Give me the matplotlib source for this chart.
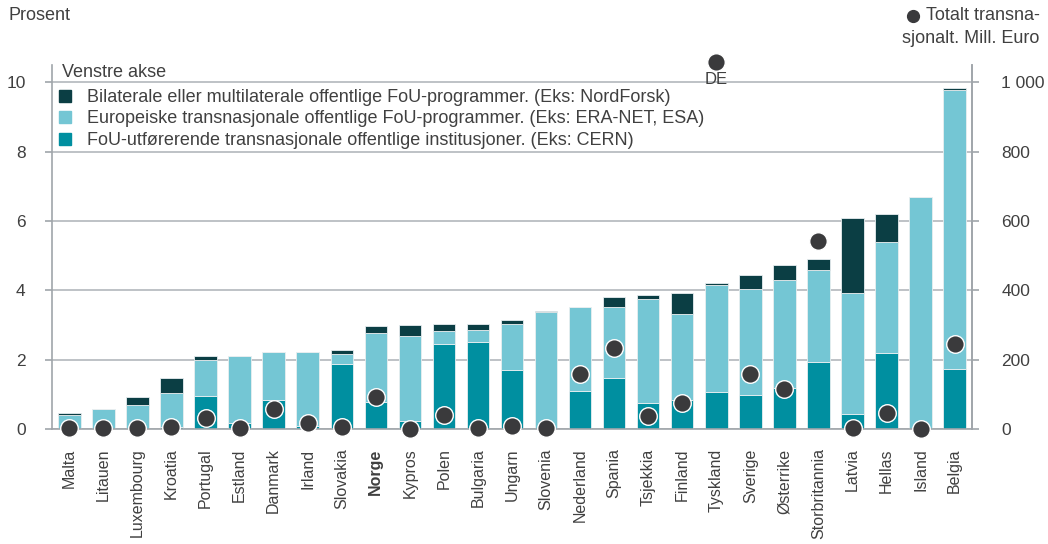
import matplotlib
matplotlib.use("Agg")
import matplotlib.pyplot as plt
from matplotlib.patches import Patch
from matplotlib.lines import Line2D
import numpy as np

plt.rcParams['font.family'] = ['Liberation Sans', 'DejaVu Sans']

countries = ["Malta", "Litauen", "Luxembourg", "Kroatia", "Portugal", "Estland", "Danmark",
             "Irland", "Slovakia", "Norge", "Kypros", "Polen", "Bulgaria", "Ungarn", "Slovenia",
             "Nederland", "Spania", "Tsjekkia", "Finland", "Tyskland", "Sverige", "Østerrike",
             "Storbritannia", "Latvia", "Hellas", "Island", "Belgia"]

# Percent shares (left axis)
fou_utforende = [0.00, 0.00, 0.00, 0.07, 0.96, 0.18, 0.84, 0.10, 1.88, 0.79, 0.24, 2.45, 2.52, 1.70,
                 0.00, 1.10, 1.48, 0.76, 0.84, 1.08, 0.98, 1.19, 1.94, 0.42, 2.18, 0.00, 1.73]
europeiske = [0.40, 0.57, 0.69, 0.96, 1.03, 1.94, 1.38, 2.12, 0.28, 1.97, 2.44, 0.38, 0.33, 1.33,
              3.37, 2.42, 2.03, 2.98, 2.49, 3.07, 3.07, 3.12, 2.66, 3.49, 3.22, 6.70, 8.04]
bilaterale = [0.05, 0.01, 0.22, 0.43, 0.12, 0.00, 0.00, 0.00, 0.12, 0.21, 0.31, 0.19, 0.18, 0.10,
              0.03, 0.00, 0.30, 0.12, 0.58, 0.05, 0.39, 0.42, 0.31, 2.18, 0.79, 0.00, 0.07]

# Total transnational, mill. euro (right axis); Tyskland is off the scale
totalt = [3, 3, 3, 5, 33, 2, 57, 16, 7, 92, 1, 40, 2, 10, 2, 160, 235, 38, 76, 1058, 158, 116,
          542, 2, 45, 0, 245]

left_ticks = [0, 2, 4, 6, 8, 10]
right_ticks = [0, 200, 400, 600, 800, 1000]
right_labels = ["0", "200", "400", "600", "800", "1 000"]

c_dark = "#0b3e44"
c_light = "#74c6d4"
c_teal = "#008fa0"
c_dot = "#3a3a3c"
c_grid = "#b3b8bc"
c_spine = "#a0a5aa"
c_text = "#404040"
fs = 13
fs_tick = 12.5
fs_x = 11.5

fig = plt.figure(figsize=(10.48, 5.44), dpi=100)
ax = fig.add_axes([0.0496, 0.2114, 0.8779, 0.6691])
x = np.arange(len(countries))
w = 0.66
b1 = np.array(fou_utforende)
b2 = np.array(europeiske)
b3 = np.array(bilaterale)
ax.bar(x, b1, w, color=c_teal, edgecolor="#e8eef0", linewidth=0.6, zorder=2)
ax.bar(x, b2, w, bottom=b1, color=c_light, edgecolor="#e8eef0", linewidth=0.6, zorder=2)
ax.bar(x, b3, w, bottom=b1 + b2, color=c_dark, edgecolor="#e8eef0", linewidth=0.6, zorder=2)

ax.set_xlim(-0.51, 26.51)
ax.set_ylim(0, 10.5)
ax.set_yticks(left_ticks)
ax.set_yticklabels([str(t) for t in left_ticks])
ax.grid(axis='y', color=c_grid, linewidth=1.2, zorder=0)
ax.set_axisbelow(True)
ax.spines["top"].set_visible(False)
for s in ["left", "right", "bottom"]:
    ax.spines[s].set_color(c_spine)
    ax.spines[s].set_linewidth(1.2)
ax.tick_params(axis='y', length=5, width=1.2, color=c_spine, labelsize=fs_tick, labelcolor=c_text, pad=14)
ax.tick_params(axis='x', length=0, labelsize=fs_x, labelcolor=c_text, pad=14)
ax.set_xticks(x)
ax.set_xticklabels(countries, rotation=90)
for lab in ax.get_xticklabels():
    if lab.get_text() == "Norge":
        lab.set_fontweight("bold")

ax2 = ax.twinx()
ax2.set_ylim(0, 1050)
ax2.set_yticks(right_ticks)
ax2.set_yticklabels(right_labels)
ax2.tick_params(axis='y', length=5, width=1.2, color=c_spine, labelsize=fs_tick, labelcolor=c_text, pad=16)
for s in ["top", "left", "bottom"]:
    ax2.spines[s].set_visible(False)
ax2.spines["right"].set_color(c_spine)
ax2.spines["right"].set_linewidth(1.2)
ax2.scatter(x, totalt, s=160, color=c_dot, edgecolor="white", linewidth=1.0, zorder=5, clip_on=False)
de = countries.index("Tyskland")
ax2.text(x[de], 1008, "DE", ha="center", va="center", fontsize=12, color=c_text)

handles = [Patch(color=c_dark), Patch(color=c_light), Patch(color=c_teal)]
labels = ["Bilaterale eller multilaterale offentlige FoU-programmer. (Eks: NordForsk)",
          "Europeiske transnasjonale offentlige FoU-programmer. (Eks: ERA-NET, ESA)",
          "FoU-utførerende transnasjonale offentlige institusjoner. (Eks: CERN)"]
leg = ax2.legend(handles, labels, loc="upper left", bbox_to_anchor=(0.0, 0.954), frameon=False,
                 fontsize=fs, handlelength=0.65, handleheight=0.65, handletextpad=0.9,
                 labelspacing=0.25, borderaxespad=0.2, borderpad=0.2)
for t in leg.get_texts():
    t.set_color(c_text)
ax2.text(0.011, 0.979, "Venstre akse", transform=ax2.transAxes, fontsize=fs, color=c_text,
         ha="left", va="center")

fig.text(0.008, 0.972, "Prosent", fontsize=fs, color=c_text, ha="left", va="center")
fig.text(0.992, 0.972, "Totalt transna-", fontsize=fs, color=c_text, ha="right", va="center")
fig.text(0.992, 0.930, "sjonalt. Mill. Euro", fontsize=fs, color=c_text, ha="right", va="center")
fig.add_artist(Line2D([913 / 1048], [1 - 16 / 544], marker="o", markersize=8.5, color=c_dot,
                      linestyle="none", transform=fig.transFigure))

fig.savefig("out.png", dpi=100)
